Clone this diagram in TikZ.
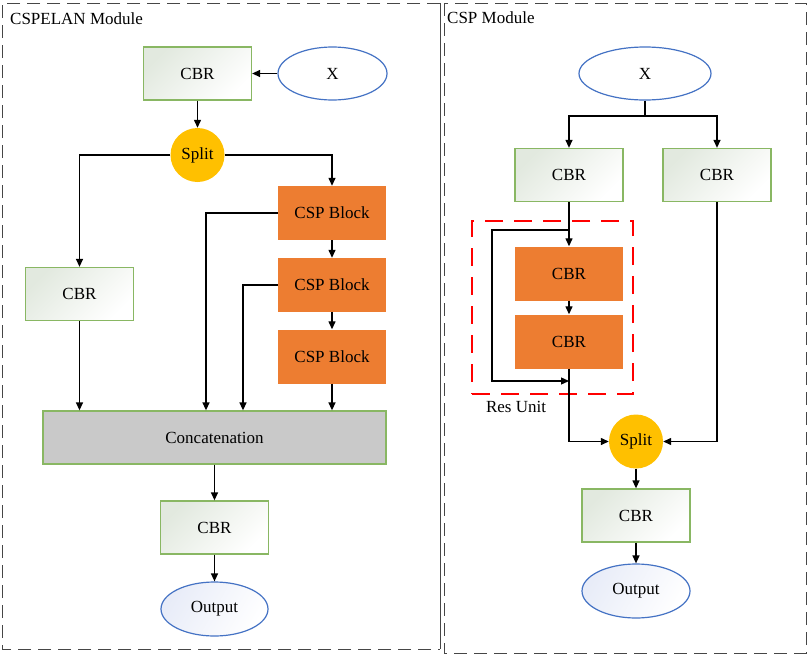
\documentclass[tikz,border=0pt]{standalone}
\usepackage{fontspec}
\setmainfont{Liberation Serif}
\usetikzlibrary{arrows.meta,shapes.geometric,calc}
\definecolor{cbrgreen}{RGB}{137,183,99}
\definecolor{cbrshade}{RGB}{226,233,223}
\definecolor{elblue}{RGB}{68,114,196}
\definecolor{elshade}{RGB}{232,236,248}
\definecolor{orng}{RGB}{237,125,49}
\definecolor{splity}{RGB}{255,192,0}
\definecolor{catgray}{RGB}{201,201,201}
\definecolor{panelgray}{RGB}{70,70,70}
\newcommand\mytxt{\fontsize{17}{20}\selectfont}
\tikzset{
  cbr/.style={draw=cbrgreen, line width=1.3pt, top color=cbrshade, bottom color=white,
    shading angle=45, minimum width=108pt, minimum height=53pt, inner sep=0pt, font=\mytxt},
  orangebox/.style={fill=orng, draw=none, minimum width=108pt, minimum height=54pt,
    inner sep=0pt, font=\mytxt},
  ell/.style={ellipse, draw=elblue, line width=1.2pt, fill=white, inner sep=0pt, font=\mytxt},
  outell/.style={ell, top color=elshade, bottom color=white, shading angle=60},
  splitc/.style={circle, fill=splity, minimum size=54pt, inner sep=0pt, font=\mytxt},
  conn/.style={line width=1.3pt, draw=black},
  arr/.style={conn, -{Triangle[length=8pt,width=7pt]}},
  panel/.style={draw=panelgray, line width=1pt, dash pattern=on 13pt off 7pt},
  resbox/.style={draw=red, line width=2pt, dash pattern=on 18pt off 11pt,
    minimum width=161pt, minimum height=173pt, inner sep=0pt},
  title/.style={font=\mytxt, anchor=west, inner sep=0pt},
}
\begin{document}
\begin{tikzpicture}[x=1pt,y=-1pt]
\useasboundingbox (0,0) rectangle (809,656);
% panels
\draw[panel] (440,3) -- (2,3) -- (2,649) -- (440,649);
\draw[draw=panelgray, line width=1pt] (440,3) -- (440,649);
\draw[panel] (444,3) rectangle (806,653);
\node[title] (t1) at (10,19) {CSPELAN Module};
\node[title] (t2) at (447,18) {CSP Module};

% ---------- left: CSPELAN ----------
\node[cbr] (CBR1) at (197.5,73.5) {CBR};
\node[ell, minimum width=109pt, minimum height=53pt] (X1) at (332.5,73.5) {X};
\node[splitc] (S1) at (197.5,155) {Split};
\node[cbr] (CBR2) at (79.5,294) {CBR};
\node[orangebox] (CSP1) at (332,213) {CSP Block};
\node[orangebox] (CSP2) at (332,285) {CSP Block};
\node[orangebox] (CSP3) at (332,356.5) {CSP Block};
\node[draw=cbrgreen, line width=1.3pt, fill=catgray, minimum width=343pt, minimum height=53pt,
  inner sep=0pt, font=\mytxt] (Cat) at (214.5,437.5) {Concatenation};
\node[cbr] (CBR3) at (214.5,527.5) {CBR};
\node[outell, minimum width=107pt, minimum height=54pt] (Out1) at (214.5,609) {Output};
\coordinate (c1) at (206,0);
\coordinate (c2) at (243,0);

\draw[arr] (X1.west) -- (CBR1.east);
\draw[arr] (CBR1.south) -- (S1.north);
\draw[arr] (S1.west) -| (CBR2.north);
\draw[arr] (S1.east) -| (CSP1.north);
\draw[arr] (CSP1.south) -- (CSP2.north);
\draw[arr] (CSP2.south) -- (CSP3.north);
\draw[arr] (CSP1.west) -| (Cat.north -| c1);
\draw[arr] (CSP2.west) -| (Cat.north -| c2);
\draw[arr] (CBR2.south) -- (CBR2.south |- Cat.north);
\draw[arr] (CSP3.south) -- (CSP3.south |- Cat.north);
\draw[arr] (Cat.south) -- (CBR3.north);
\draw[arr] (CBR3.south) -- (Out1.north);

% ---------- right: CSP ----------
\node[ell, minimum width=132pt, minimum height=53pt] (X2) at (645,73.5) {X};
\node[cbr] (R1) at (569,175) {CBR};
\node[cbr] (R2) at (717,175) {CBR};
\node[resbox] (Res) at (552.5,307.5) {};
\node[font=\mytxt, inner sep=0pt] (ResL) at (516,407) {Res Unit};
\node[orangebox] (O1) at (569,273.5) {CBR};
\node[orangebox] (O2) at (569,341.5) {CBR};
\node[splitc] (S2) at (636,441.5) {Split};
\node[cbr] (CBR4) at (636,515.5) {CBR};
\node[outell, minimum width=108pt, minimum height=54pt] (Out2) at (636,591) {Output};
\coordinate (j) at (645,116);
\coordinate (rj) at (569,230);
\coordinate (rl) at (492,381);
\coordinate (rm) at (569,381);

\draw[conn] (X2.south) -- (j);
\draw[arr] (j) -| (R1.north);
\draw[arr] (j) -| (R2.north);
\draw[arr] (R1.south) -- (O1.north);
\draw[arr] (rj) -| (rl) -- (rm);
\draw[arr] (O1.south) -- (O2.north);
\draw[arr] (O2.south) |- (S2.west);
\draw[arr] (R2.south) |- (S2.east);
\draw[arr] (S2.south) -- (CBR4.north);
\draw[arr] (CBR4.south) -- (Out2.north);
\end{tikzpicture}
\end{document}
